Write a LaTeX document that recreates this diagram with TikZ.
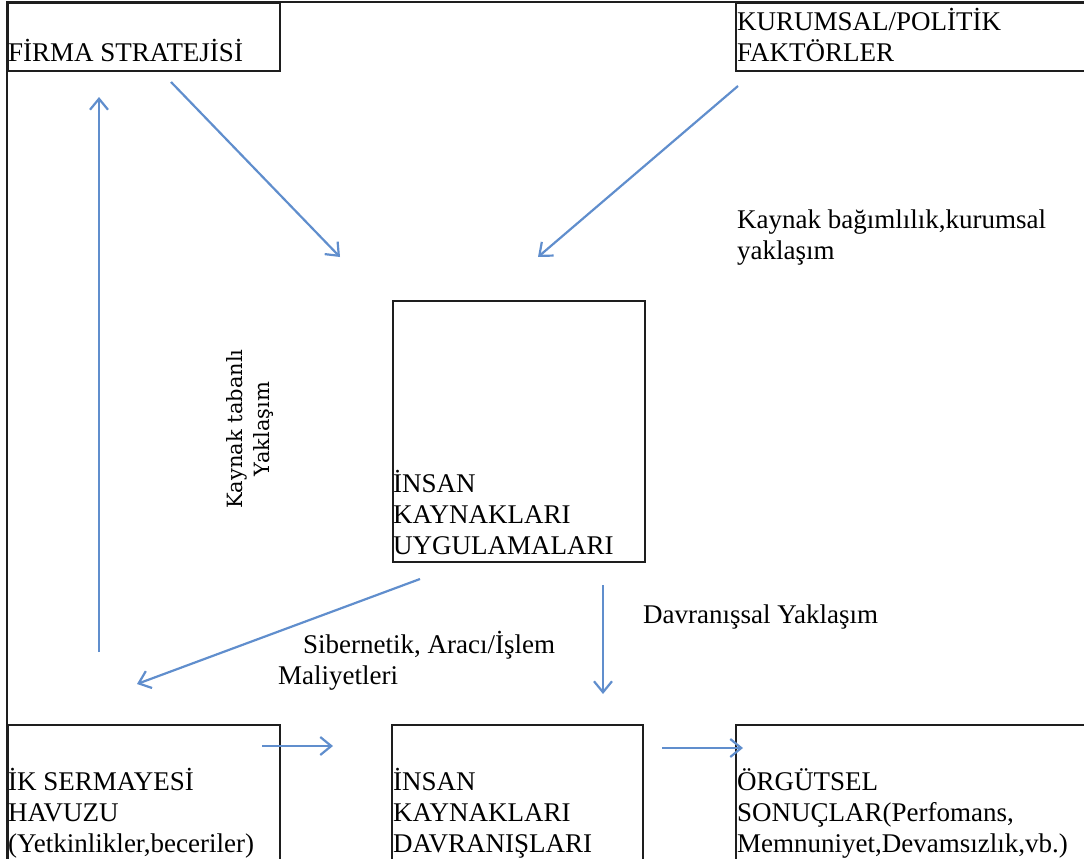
\documentclass[tikz,border=0pt]{standalone}
\usepackage{fontspec}
\setmainfont{Liberation Serif}
\newfontfamily\slabfont{DejaVu Serif}
\usetikzlibrary{arrows.meta}
\definecolor{flowblue}{RGB}{96,142,205}
\definecolor{frameline}{RGB}{30,30,30}
\tikzset{
  box/.style={draw=frameline, line width=1.8pt, rectangle, inner sep=0pt, anchor=north west},
  % multi-line labels are placed by the baseline of their last line
  lbl/.style={inner sep=0pt, anchor=base west, align=left, font=\fontsize{27}{31}\selectfont},
  rlbl/.style={inner sep=0pt, rotate=90, align=center, font=\slabfont\fontsize{21}{27}\selectfont},
  flow/.style={draw=flowblue, line width=2.2pt, -{Straight Barb[length=11pt,width=18pt]}}
}
\begin{document}
\begin{tikzpicture}[x=1pt, y=-1pt]
\useasboundingbox (0,0) rectangle (1084,859);
\clip (0,0) rectangle (1084,859);

% canvas frame (top and left edges)
\draw[frameline, line width=1.8pt] (7,890) -- (7,2) -- (1100,2);

% boxes
\node[box, minimum width=272pt, minimum height=68pt] (firma) at (7,2) {};
\node[box, minimum width=370pt, minimum height=68pt] (kurum) at (735,2) {};
\node[box, minimum width=252pt, minimum height=261pt] (ikuyg) at (392,300) {};
\node[box, minimum width=272pt, minimum height=160pt] (sermaye) at (7,724) {};
\node[box, minimum width=251pt, minimum height=160pt] (ikdavr) at (391,724) {};
\node[box, minimum width=370pt, minimum height=160pt] (sonuc) at (735,724) {};

% box texts
\node[lbl] (firmaT) at (8,62) {FİRMA STRATEJİSİ};
\node[lbl] (kurumT) at (737,62) {KURUMSAL/POLİTİK\\FAKTÖRLER};
\node[lbl] (ikuygT) at (393,554) {İNSAN\\KAYNAKLARI\\UYGULAMALARI};
\node[lbl] (sermayeT) at (8,852) {İK SERMAYESİ\\HAVUZU\\(Yetkinlikler,beceriler)};
\node[lbl] (ikdavrT) at (393,852) {İNSAN\\KAYNAKLARI\\DAVRANIŞLARI};
\node[lbl] (sonucT) at (737,852) {ÖRGÜTSEL\\SONUÇLAR(Perfomans,\\Memnuniyet,Devamsızlık,vb.)};

% approach labels
\node[lbl] (kbag) at (737,259) {Kaynak bağımlılık,kurumsal\\yaklaşım};
\node[lbl] (davr) at (643,623) {Davranışsal Yaklaşım};
\node[lbl] (siber) at (278,684) {\hspace*{25pt}Sibernetik, Aracı/İşlem\\Maliyetleri};
\node[rlbl] (ktab) at (250,429) {Kaynak tabanlı\\Yaklaşım};

% arrow end points
\coordinate (a1s) at (99,652);  \coordinate (a1e) at (99,97);
\coordinate (a2s) at (171,82);  \coordinate (a2e) at (340,257);
\coordinate (a3s) at (738,86);  \coordinate (a3e) at (538,257);
\coordinate (a4s) at (420,579); \coordinate (a4e) at (137,684);
\coordinate (a5s) at (603,585); \coordinate (a5e) at (603,694);
\coordinate (a6s) at (262,746); \coordinate (a6e) at (333,746);
\coordinate (a7s) at (662,748); \coordinate (a7e) at (743,748);

% arrows
\draw[flow] (a1s) -- (a1e);
\draw[flow] (a2s) -- (a2e);
\draw[flow] (a3s) -- (a3e);
\draw[flow] (a4s) -- (a4e);
\draw[flow] (a5s) -- (a5e);
\draw[flow] (a6s) -- (a6e);
\draw[flow] (a7s) -- (a7e);
\end{tikzpicture}
\end{document}
